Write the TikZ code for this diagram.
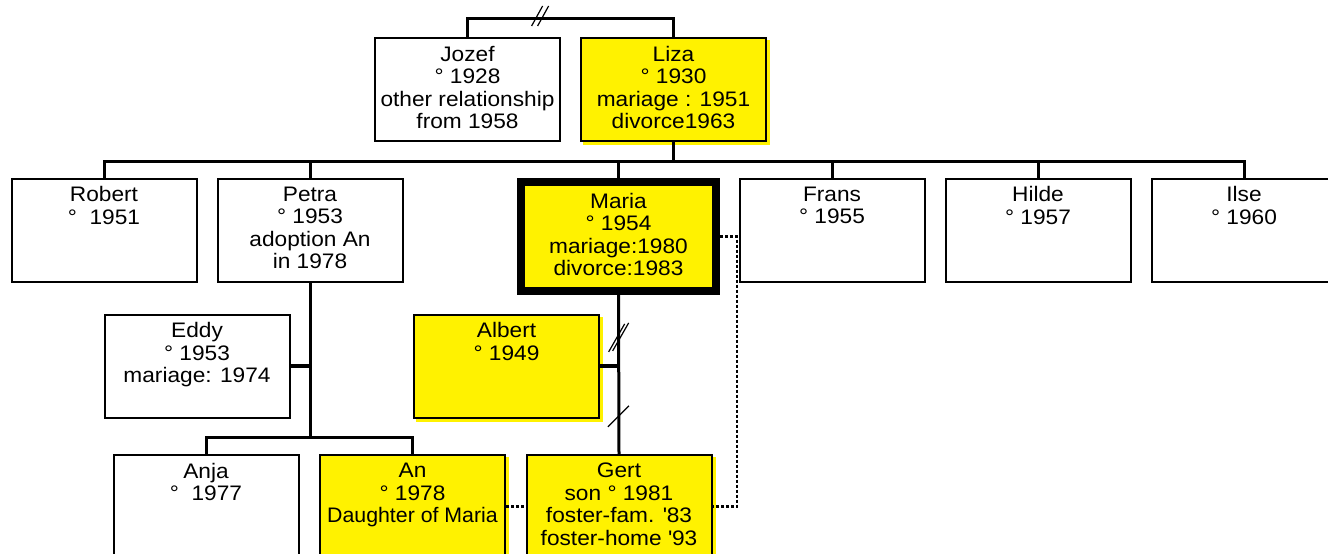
\documentclass[tikz,border=0pt]{standalone}
\usepackage{fontspec}
\setmainfont[FakeStretch=1.08]{Liberation Sans}
\usetikzlibrary{positioning,shadows}
\tikzset{person/.style={draw=black,line width=2pt,rectangle,minimum width=185pt,minimum height=103pt,inner sep=0pt}}
\tikzset{partner/.style={person,fill=yellow,copy shadow={draw=yellow,fill=yellow,shadow xshift=3pt,shadow yshift=-3pt}}}
\tikzset{txt/.style={inner sep=0pt,align=center,font=\fontsize{21}{22.5}\selectfont}}

\begin{document}
\begin{tikzpicture}[x=1pt, y=-1pt, link/.style={line width=3pt}, foster/.style={line width=2.5pt,dash pattern=on 3pt off 2pt}, cut/.style={line width=1.2pt}]
\useasboundingbox (0,0) rectangle (1328,554);
    % parents
    \node[person] (jozef) at (467.5,89.5) {};
    \node[partner] (liza) at (673.5,89.5) {};
    % children
    \node[person] (robert) at (104,230) {};
    \node[person] (petra) at (310,230) {};
    \node[person,fill=yellow,line width=8pt,minimum width=195pt,minimum height=109pt] (maria) at (618.5,236.5) {};
    \node[person] (frans) at (832,230) {};
    \node[person] (hilde) at (1038,230) {};
    \node[person] (ilse) at (1244,230) {};
    % partners
    \node[person] (eddy) at (197,366) {};
    \node[partner] (albert) at (506.5,366) {};
    % grandchildren
    \node[person] (anja) at (206,506.5) {};
    \node[partner] (an) at (412.5,506.5) {};
    \node[partner] (gert) at (619,506.5) {};

    \node[txt,below=9pt of jozef.north] (jozef-t) {Jozef\\° 1928\\other relationship\\from 1958};
    \node[txt,below=9pt of liza.north] (liza-t) {Liza\\° 1930\\mariage : 1951\\divorce1963};
    \node[txt,below=9pt of robert.north] (robert-t) {Robert\\°\ \ 1951};
    \node[txt,below=9pt of petra.north] (petra-t) {Petra\\° 1953\\adoption An\\in 1978};
    \node[txt,below=15pt of maria.north] (maria-t) {Maria\\° 1954\\mariage:1980\\divorce:1983};
    \node[txt,below=9pt of frans.north] (frans-t) {Frans\\° 1955};
    \node[txt,below=9pt of hilde.north] (hilde-t) {Hilde\\° 1957};
    \node[txt,below=9pt of ilse.north] (ilse-t) {Ilse\\° 1960};
    \node[txt,below=9pt of eddy.north] (eddy-t) {Eddy\\° 1953\\mariage: 1974};
    \node[txt,below=9pt of albert.north] (albert-t) {Albert\\° 1949};
    \node[txt,below=9pt of anja.north] (anja-t) {Anja\\°\ \ 1977};
    \node[txt,below=9pt of an.north] (an-t) {An\\° 1978\\\scalebox{0.94}[1]{Daughter of Maria}};
    \node[txt,below=9pt of gert.north] (gert-t) {Gert\\son ° 1981\\foster-fam. \textquotesingle 83\\foster-home \textquotesingle 93};

    % lines
    \draw[link] (jozef.north) -- ++(0,-19) coordinate (j1) -- coordinate[pos=0.35] (div1) (j1 -| liza.north) -- (liza.north);
    \draw[link] (robert.north) -- ++(0,-16) coordinate (s1) -- (s1 -| ilse.north) -- (ilse.north);
    \foreach \c in {petra,maria,frans,hilde}
        \draw[link] (\c.north) -- (\c.north |- s1);
    \draw[link] (liza.south) -- (liza.south |- s1);
    \draw[link] (maria.south) -- coordinate[pos=0.27] (div2) coordinate[pos=0.76] (div3) (gert.north);
    \draw[link,line width=4pt] (albert.east) -- (albert.east -| maria.south);
    \path (petra.south) ++(0,155) coordinate (kids);
    \draw[link] (petra.south) -- (kids);
    \draw[link] (anja.north) |- (kids) -| (an.north);
    \draw[link,line width=4pt] (eddy.east) -- (eddy.east -| kids);
    \draw[foster] (maria.east) -- ++(17,0) |- (gert.east);
    \draw[foster] (an.east) -- (gert.west);

    % separations
    \draw[cut] (div1) ++(-8,8) -- ++(11,-20) (div1) ++(-2,8) -- ++(11,-20);
    \draw[cut] (div2) ++(-10,14) -- ++(16,-28) (div2) ++(-6,13) -- ++(16,-28);
    \draw[cut] (div3) ++(-11,11) -- ++(21,-21);
\end{tikzpicture}
\end{document}
